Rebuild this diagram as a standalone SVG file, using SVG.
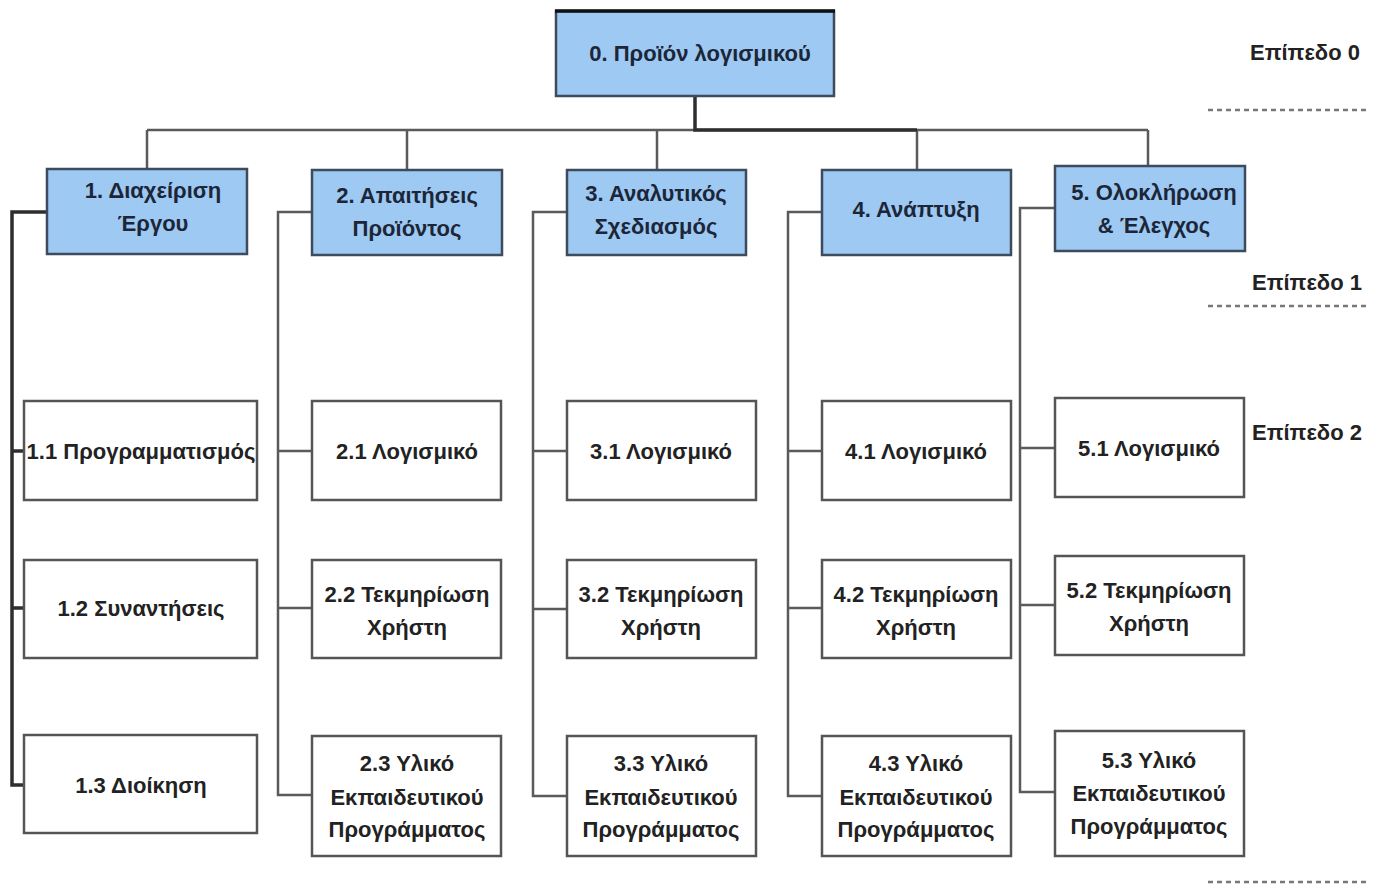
<svg xmlns="http://www.w3.org/2000/svg" width="1382" height="886" viewBox="0 0 1382 886">
<style>
  .l0 { fill: #9dc9f2; stroke: #3d4b5c; stroke-width: 2.5; }
  .l1 { fill: #9dc9f2; stroke: #3d4b5c; stroke-width: 2.5; }
  .l2 { fill: #ffffff; stroke: #555555; stroke-width: 2.5; }
  text { font-family: "Liberation Sans", Arial, sans-serif; font-weight: bold; font-size: 22px; text-anchor: middle; fill: #222222; }
  .tb { fill: #1c2638; }
  .lvl { text-anchor: end; fill: #222222; }
  .conn { fill: none; stroke: #5a5a5a; stroke-width: 2.5; }
  .dark { fill: none; stroke: #2e2e2e; stroke-width: 3.5; }
  .dots { fill: none; stroke: #777777; stroke-width: 2.5; stroke-dasharray: 5 4; }
</style>
<rect width="1382" height="886" fill="#ffffff"/>

<g id="connectors">
  <path class="conn" d="M147,130 H1148 M147,130 V169 M407,130 V170 M657,130 V170 M917,130 V170 M1148,130 V166"/>
  <path class="dark" d="M695,96 V130 H917"/>
  <path class="dark" d="M47,212 H12 V785 H24 M12,451 H24 M12,608 H24"/>
  <path class="conn" d="M312,212 H278 V795 H312 M278,451 H312 M278,608 H312"/>
  <path class="conn" d="M567,212 H533 V796 H567 M533,451 H567 M533,609 H567"/>
  <path class="conn" d="M822,212 H788 V796 H822 M788,451 H822 M788,608 H822"/>
  <path class="conn" d="M1055,208 H1020 V792 H1055 M1020,448 H1055 M1020,605 H1055"/>
</g>

<g id="node-0">
  <rect class="l0" x="556" y="11" width="278" height="85"/>
  <line x1="555" y1="11" x2="835" y2="11" stroke="#111111" stroke-width="3.5"/>
  <text class="tb" x="700" y="61">0. Προϊόν λογισμικού</text>
</g>

<g id="node-1">
  <rect class="l1" x="47" y="169" width="200" height="85"/>
  <text class="tb" x="153" y="198">1. Διαχείριση</text>
  <text class="tb" x="153" y="231">Έργου</text>
</g>
<g id="node-2">
  <rect class="l1" x="312" y="170" width="190" height="85"/>
  <text class="tb" x="407" y="203">2. Απαιτήσεις</text>
  <text class="tb" x="407" y="236">Προϊόντος</text>
</g>
<g id="node-3">
  <rect class="l1" x="567" y="170" width="179" height="85"/>
  <text class="tb" x="656" y="201">3. Αναλυτικός</text>
  <text class="tb" x="656" y="234">Σχεδιασμός</text>
</g>
<g id="node-4">
  <rect class="l1" x="822" y="170" width="189" height="85"/>
  <text class="tb" x="916" y="217">4. Ανάπτυξη</text>
</g>
<g id="node-5">
  <rect class="l1" x="1055" y="166" width="190" height="85"/>
  <text class="tb" x="1154" y="200">5. Ολοκλήρωση</text>
  <text class="tb" x="1154" y="233">&amp; Έλεγχος</text>
</g>

<g id="node-1-1">
  <rect class="l2" x="24" y="401" width="233" height="99"/>
  <text x="141" y="459">1.1 Προγραμματισμός</text>
</g>
<g id="node-1-2">
  <rect class="l2" x="24" y="560" width="233" height="98"/>
  <text x="141" y="616">1.2 Συναντήσεις</text>
</g>
<g id="node-1-3">
  <rect class="l2" x="24" y="735" width="233" height="98"/>
  <text x="141" y="793">1.3 Διοίκηση</text>
</g>

<g id="node-2-1">
  <rect class="l2" x="312" y="401" width="189" height="99"/>
  <text x="407" y="459">2.1 Λογισμικό</text>
</g>
<g id="node-2-2">
  <rect class="l2" x="312" y="560" width="189" height="98"/>
  <text x="407" y="602">2.2 Τεκμηρίωση</text>
  <text x="407" y="635">Χρήστη</text>
</g>
<g id="node-2-3">
  <rect class="l2" x="312" y="736" width="189" height="120"/>
  <text x="407" y="771">2.3 Υλικό</text>
  <text x="407" y="805">Εκπαιδευτικού</text>
  <text x="407" y="837">Προγράμματος</text>
</g>

<g id="node-3-1">
  <rect class="l2" x="567" y="401" width="189" height="99"/>
  <text x="661" y="459">3.1 Λογισμικό</text>
</g>
<g id="node-3-2">
  <rect class="l2" x="567" y="560" width="189" height="98"/>
  <text x="661" y="602">3.2 Τεκμηρίωση</text>
  <text x="661" y="635">Χρήστη</text>
</g>
<g id="node-3-3">
  <rect class="l2" x="567" y="736" width="189" height="120"/>
  <text x="661" y="771">3.3 Υλικό</text>
  <text x="661" y="805">Εκπαιδευτικού</text>
  <text x="661" y="837">Προγράμματος</text>
</g>

<g id="node-4-1">
  <rect class="l2" x="822" y="401" width="189" height="99"/>
  <text x="916" y="459">4.1 Λογισμικό</text>
</g>
<g id="node-4-2">
  <rect class="l2" x="822" y="560" width="189" height="98"/>
  <text x="916" y="602">4.2 Τεκμηρίωση</text>
  <text x="916" y="635">Χρήστη</text>
</g>
<g id="node-4-3">
  <rect class="l2" x="822" y="736" width="189" height="120"/>
  <text x="916" y="771">4.3 Υλικό</text>
  <text x="916" y="805">Εκπαιδευτικού</text>
  <text x="916" y="837">Προγράμματος</text>
</g>

<g id="node-5-1">
  <rect class="l2" x="1055" y="398" width="189" height="99"/>
  <text x="1149" y="456">5.1 Λογισμικό</text>
</g>
<g id="node-5-2">
  <rect class="l2" x="1055" y="556" width="189" height="99"/>
  <text x="1149" y="598">5.2 Τεκμηρίωση</text>
  <text x="1149" y="631">Χρήστη</text>
</g>
<g id="node-5-3">
  <rect class="l2" x="1055" y="731" width="189" height="125"/>
  <text x="1149" y="768">5.3 Υλικό</text>
  <text x="1149" y="801">Εκπαιδευτικού</text>
  <text x="1149" y="834">Προγράμματος</text>
</g>

<g id="levels">
  <text class="lvl" x="1360" y="60">Επίπεδο 0</text>
  <path class="dots" d="M1208,110 H1366"/>
  <text class="lvl" x="1362" y="290">Επίπεδο 1</text>
  <path class="dots" d="M1208,306 H1366"/>
  <text class="lvl" x="1362" y="440">Επίπεδο 2</text>
  <path class="dots" d="M1208,882 H1366"/>
</g>
</svg>
